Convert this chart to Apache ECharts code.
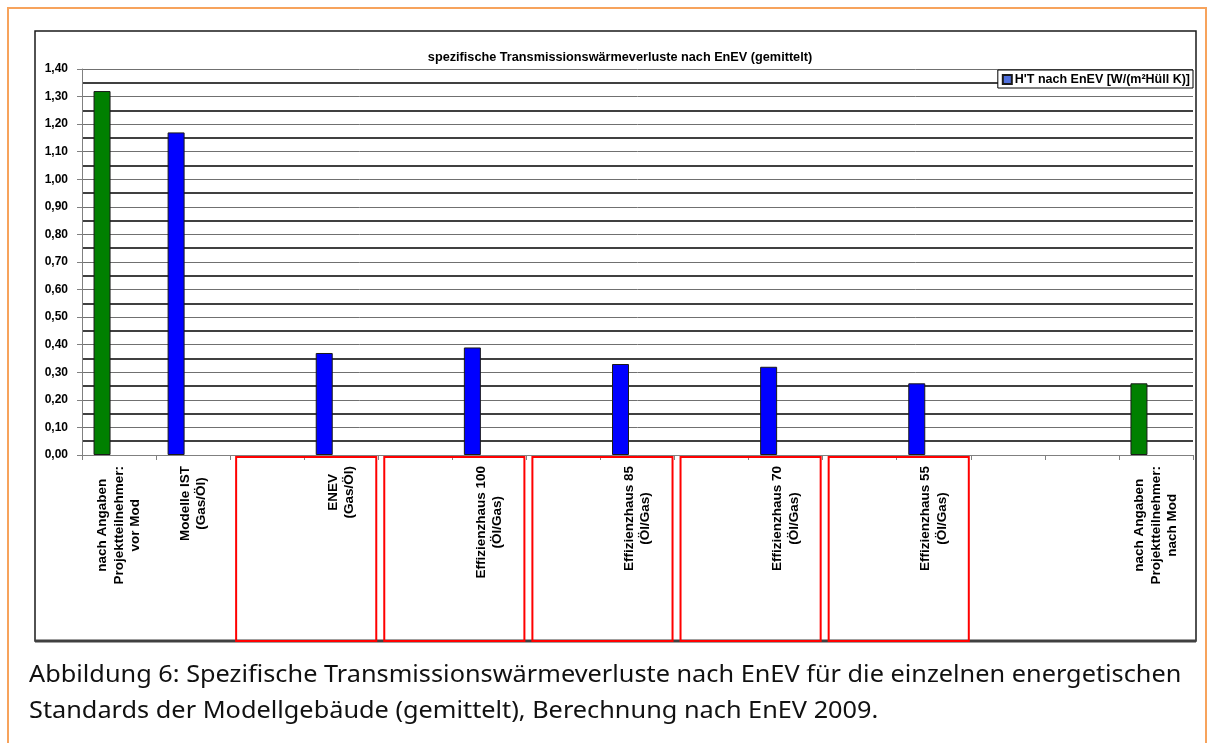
<!DOCTYPE html>
<html>
<head>
<meta charset="utf-8">
<script src="https://cdn.jsdelivr.net/npm/echarts@6/dist/echarts.min.js"></script>
<style>
  html, body { margin: 0; padding: 0; background: #fff; }
  #chart { width: 1208px; height: 743px; }
</style>
</head>
<body>
<div id="chart"></div>
<script>
// Categories along the x axis (empty slots keep the spacing of the original sheet)
const categories = [
  'nach Angaben\nProjektteilnehmer:\nvor Mod',
  'Modelle IST\n(Gas/Öl)',
  '',
  'ENEV\n(Gas/Öl)',
  '',
  'Effizienzhaus 100\n(Öl/Gas)',
  '',
  'Effizienzhaus 85\n(Öl/Gas)',
  '',
  'Effizienzhaus 70\n(Öl/Gas)',
  '',
  'Effizienzhaus 55\n(Öl/Gas)',
  '',
  '',
  'nach Angaben\nProjektteilnehmer:\nnach Mod'
];

// H'T nach EnEV in W/(m²Hüll K)
const htValues = [1.32, 1.17, null, 0.37, null, 0.39, null, 0.33, null, 0.32, null, 0.26, null, null, 0.26];

// Unused slots of the same category group (keep bars at the left of each group)
const emptySlot = categories.map(() => null);

const seriesName = "H'T nach EnEV [W/(m²Hüll K)]";
const chartTitle = 'spezifische Transmissionswärmeverluste nach EnEV (gemittelt)';
const captionLines = [
  'Abbildung 6: Spezifische Transmissionswärmeverluste nach EnEV für die einzelnen energetischen',
  'Standards der Modellgebäude (gemittelt), Berechnung nach EnEV 2009.'
];

// Y axis range
const yMin = 0, yMax = 1.4, yStep = 0.1;

// Category index ranges framed in red below the axis
const framedGroups = [[2, 3], [4, 5], [6, 7], [8, 9], [10, 11]];

const FONT = '"Liberation Sans", Arial, sans-serif';

const chart = echarts.init(document.getElementById('chart'), null, { renderer: 'canvas' });

const option = {
  backgroundColor: '#fff',
  animation: false,
  title: {
    text: chartTitle,
    left: 615,
    top: 46,
    textAlign: 'center',
    textStyle: { fontFamily: FONT, fontSize: 12.7, fontWeight: 'bold', color: '#000' }
  },
  legend: {
    data: [seriesName],
    right: 15,
    top: 70,
    orient: 'horizontal',
    backgroundColor: '#fff',
    borderColor: '#000',
    borderWidth: 1,
    padding: [3, 3, 2, 4],
    itemWidth: 9,
    itemHeight: 9,
    itemGap: 4,
    icon: 'rect',
    textStyle: { fontFamily: FONT, fontSize: 12.5, fontWeight: 'bold', color: '#000', padding: [0, 0, 0, -2] }
  },
  grid: { left: 82, right: 15, top: 69, bottom: 288, containLabel: false },
  xAxis: {
    type: 'category',
    data: categories,
    boundaryGap: true,
    axisLine: { show: true, lineStyle: { color: '#808080', width: 1 } },
    axisTick: { show: true, length: 5, inside: false, lineStyle: { color: '#808080' } },
    axisLabel: {
      interval: 0,
      rotate: 90,
      margin: 11,
      formatter: (v) => v ? v.split('\n').map(l => '{c|' + l + '}').join('\n') : '',
      rich: {
        c: { align: 'center', fontFamily: FONT, fontSize: 13.5, fontWeight: 'bold', color: '#000', lineHeight: 16.5 }
      }
    },
    splitLine: { show: false }
  },
  yAxis: {
    type: 'value',
    min: yMin,
    max: yMax,
    interval: yStep,
    axisLine: { show: true, lineStyle: { color: '#808080', width: 1 } },
    axisTick: { show: true, length: 5, inside: false, lineStyle: { color: '#808080' } },
    axisLabel: {
      margin: 14,
      fontFamily: FONT,
      fontSize: 12,
      fontWeight: 'bold',
      color: '#000',
      formatter: (v) => v.toFixed(2).replace('.', ',')
    },
    splitLine: { show: true, lineStyle: { color: '#707070', width: 1 } },
    minorTick: { show: false, splitNumber: 2 },
    minorSplitLine: { show: true, lineStyle: { color: '#000', width: 1.6 } }
  },
  series: [
    {
      name: seriesName,
      type: 'bar',
      data: htValues,
      barWidth: 17,
      barGap: '0%',
      itemStyle: {
        color: (p) => p.name.indexOf('nach Angaben') === 0 ? '#008000' : '#0000FF',
        borderColor: '#1a1a1a',
        borderWidth: 1
      }
    },
    { name: 'slot2', type: 'bar', data: emptySlot, barWidth: 17, barGap: '0%', silent: true },
    { name: 'slot3', type: 'bar', data: emptySlot, barWidth: 17, barGap: '0%', silent: true }
  ]
};

chart.setOption(option);

// Frames, outlines and caption placed relative to the computed grid
function decorate() {
  const c0 = chart.convertToPixel({ xAxisIndex: 0 }, 0);
  const c1 = chart.convertToPixel({ xAxisIndex: 0 }, 1);
  const cw = c1 - c0;
  const yAxisPx = chart.convertToPixel({ yAxisIndex: 0 }, 0);

  const redFrames = framedGroups.map(([a, b]) => {
    const x0 = chart.convertToPixel({ xAxisIndex: 0 }, a) - cw / 2 + 6;
    const x1 = chart.convertToPixel({ xAxisIndex: 0 }, b) + cw / 2 - 2;
    return {
      type: 'rect',
      shape: { x: x0, y: yAxisPx + 2, width: x1 - x0, height: 641 - yAxisPx - 2 },
      style: { fill: 'none', stroke: '#FF0000', lineWidth: 2 },
      z: 50
    };
  });

  chart.setOption({
    graphic: [
      // page frame
      {
        type: 'rect',
        shape: { x: 8, y: 8, width: 1198, height: 760 },
        style: { fill: 'none', stroke: '#F7A35C', lineWidth: 2 },
        z: 0
      },
      // chart area outline
      {
        type: 'rect',
        shape: { x: 35, y: 31, width: 1161, height: 610 },
        style: { fill: 'none', stroke: '#1a1a1a', lineWidth: 1.5 },
        z: 40
      },
      {
        type: 'line',
        shape: { x1: 35, y1: 641, x2: 1196, y2: 641 },
        style: { stroke: '#404040', lineWidth: 3 },
        z: 41
      },
      ...redFrames,
      // caption below the chart, slightly widened type
      {
        type: 'text',
        x: 29,
        y: 657,
        scaleX: 1.1,
        style: {
          text: captionLines.join('\n'),
          font: '23px "Noto Sans", sans-serif',
          fill: '#111',
          lineHeight: 36,
          verticalAlign: 'top'
        },
        z: 60
      }
    ]
  });
}

decorate();
</script>
</body>
</html>
